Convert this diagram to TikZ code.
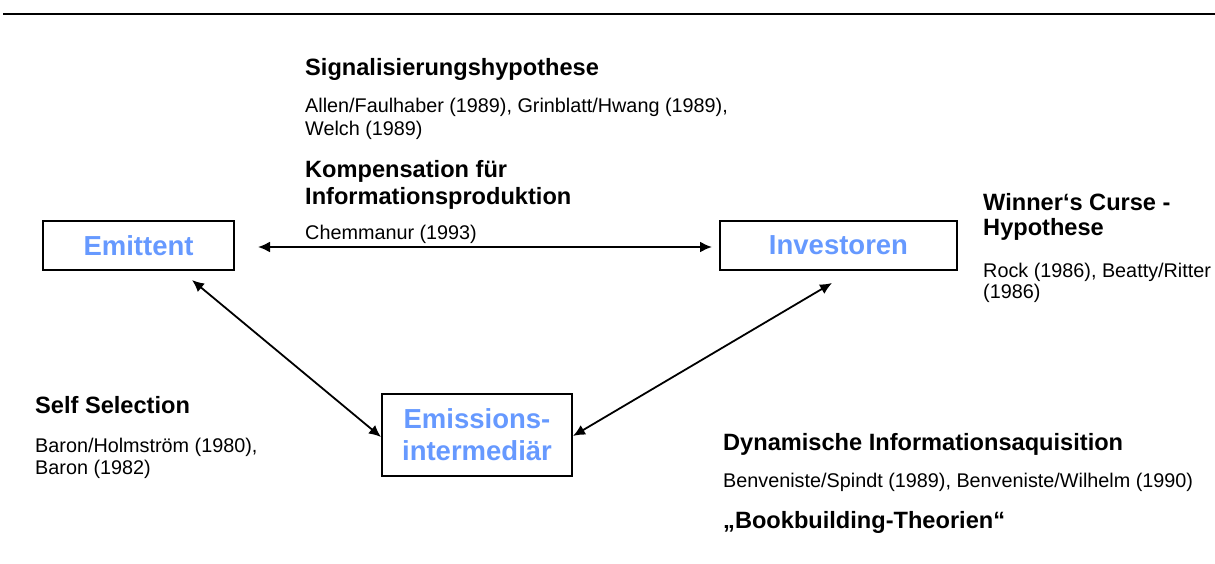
\documentclass[tikz,border=0pt]{standalone}
\usepackage{fontspec}
\setmainfont{Liberation Sans}
\usetikzlibrary{arrows.meta}
\definecolor{boxblue}{RGB}{102,153,255}
\begin{document}
\begin{tikzpicture}[x=1pt,y=-1pt,
  box/.style={draw=black, line width=2pt, inner sep=0pt, font=\fontsize{27.5}{32}\selectfont\bfseries, text=boxblue, align=center},
  head/.style={anchor=base west, inner sep=0pt, font=\fontsize{23.6}{27.6}\selectfont\bfseries},
  body/.style={anchor=base west, inner sep=0pt, font=\fontsize{19.8}{23}\selectfont},
  conn/.style={line width=1.8pt, {Latex[length=12pt,width=11pt]}-{Latex[length=12pt,width=11pt]}},
  rule/.style={line width=2.8pt}
]
\useasboundingbox (0,0) rectangle (1215,563);

% header rule
\coordinate (ruleL) at (3,14);
\coordinate (ruleR) at (1215,14);
\draw[rule] (ruleL) -- (ruleR);

% boxes
\node[box, minimum width=191pt, minimum height=49pt] (emit) at (138.5,245.5) {Emittent};
\node[box, minimum width=237pt, minimum height=49pt] (inv) at (838.5,245.5) {Investoren};
\node[box, minimum width=190pt, minimum height=82pt] (emi) at (477,435) {Emissions-\\intermediär};

% connector end points
\coordinate (hL) at (258,247);
\coordinate (hR) at (712,247);
\coordinate (dlA) at (192,280);
\coordinate (dlB) at (381,437);
\coordinate (drA) at (832,283);
\coordinate (drB) at (573,436);

\draw[conn, line width=2pt] (hL) -- (hR);
\draw[conn] (dlA) -- (dlB);
\draw[conn] (drA) -- (drB);

% top texts
\node[head] (sig) at (305,75) {Signalisierungshypothese};
\node[body] (sig1) at (305,112) {Allen/Faulhaber (1989), Grinblatt/Hwang (1989),};
\node[body] (sig2) at (305,135) {Welch (1989)};
\node[head] (komp1) at (305,177) {Kompensation für};
\node[head] (komp2) at (305,204) {Informationsproduktion};
\node[body] (chem) at (305,239) {Chemmanur (1993)};

% right texts
\node[head] (win1) at (983,210) {Winner‘s Curse -};
\node[head] (win2) at (983,235) {Hypothese};
\node[body] (rock1) at (983,277) {Rock (1986), Beatty/Ritter};
\node[body] (rock2) at (983,298) {(1986)};

% left texts
\node[head] (self) at (35,413) {Self Selection};
\node[body] (bar1) at (35,452) {Baron/Holmström (1980),};
\node[body] (bar2) at (35,474) {Baron (1982)};

% bottom right texts
\node[head] (dyn) at (723,450) {Dynamische Informationsaquisition};
\node[body] (ben) at (723,487) {Benveniste/Spindt (1989), Benveniste/Wilhelm (1990)};
\node[head] (book) at (723,528) {„Bookbuilding-Theorien“};
\end{tikzpicture}
\end{document}
